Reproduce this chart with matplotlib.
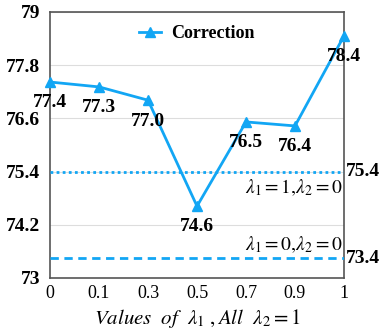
import matplotlib
matplotlib.use("Agg")
import matplotlib.pyplot as plt

categories = ["0", "0.1", "0.3", "0.5", "0.7", "0.9", "1"]
correction = [77.42, 77.31, 77.01, 74.62, 76.52, 76.43, 78.46]
point_labels = ["77.4", "77.3", "77.0", "74.6", "76.5", "76.4", "78.4"]
baseline_10 = 75.4   # lambda1=1, lambda2=0
baseline_00 = 73.45  # lambda1=0, lambda2=0
baseline_labels = ["75.4", "73.4"]
yticks = [73, 74.2, 75.4, 76.6, 77.8, 79]
ytick_labels = ["73", "74.2", "75.4", "76.6", "77.8", "79"]

color = "#12A6F4"
plt.rcParams["font.family"] = ["Liberation Serif", "DejaVu Serif"]
plt.rcParams["mathtext.fontset"] = "stix"

fig = plt.figure(figsize=(3.82, 3.32), dpi=100)
ax = fig.add_axes([0.131, 0.1627, 0.7695, 0.8012])

x = list(range(len(categories)))
ax.plot(x, correction, color=color, lw=2.0, marker="^", ms=7, label="Correction",
        clip_on=False, zorder=5)
ax.axhline(baseline_10, color=color, lw=2.0, ls=(0, (1, 1.2)), zorder=3)
ax.axhline(baseline_00, color=color, lw=2.0, ls=(0, (3, 2)), zorder=3)

for xi, yi, lab in zip(x, correction, point_labels):
    ax.annotate(lab, (xi, yi), xytext=(0, -15), textcoords="offset points",
                ha="center", va="center", fontsize=14, fontweight="bold", zorder=6)

ax.text(1.005, baseline_10, baseline_labels[0], transform=ax.get_yaxis_transform(),
        ha="left", va="center", fontsize=14, fontweight="bold")
ax.text(1.005, baseline_00, baseline_labels[1], transform=ax.get_yaxis_transform(),
        ha="left", va="center", fontsize=14, fontweight="bold")

ax.text(0.995, 75.03, r"$\lambda_1=1,\!\lambda_2=0$", transform=ax.get_yaxis_transform(),
        ha="right", va="center", fontsize=14)
ax.text(0.995, 73.76, r"$\lambda_1=0,\!\lambda_2=0$", transform=ax.get_yaxis_transform(),
        ha="right", va="center", fontsize=14)

ax.set_xlim(0, len(categories) - 1)
ax.set_ylim(73, 79)
ax.set_xticks(x)
ax.set_xticklabels(categories, fontsize=13)
ax.set_yticks(yticks)
ax.set_yticklabels(ytick_labels, fontsize=14, fontweight="bold")
ax.tick_params(length=0, pad=5)
ax.tick_params(axis="y", pad=7)
ax.yaxis.grid(True, color="#dddddd", lw=0.8)
ax.set_axisbelow(True)
for s in ax.spines.values():
    s.set_color("#555555")
    s.set_linewidth(1.2)

ax.set_xlabel(r"$Values\ \ of\ \ \lambda_1\ ,All\ \ \lambda_2=1$", fontsize=15, labelpad=4)

leg = ax.legend(loc="upper center", frameon=False, prop={"weight": "bold", "size": 13},
                handlelength=1.2, handletextpad=0.6, bbox_to_anchor=(0.5, 1.012))

fig.savefig("out.png", dpi=100)
